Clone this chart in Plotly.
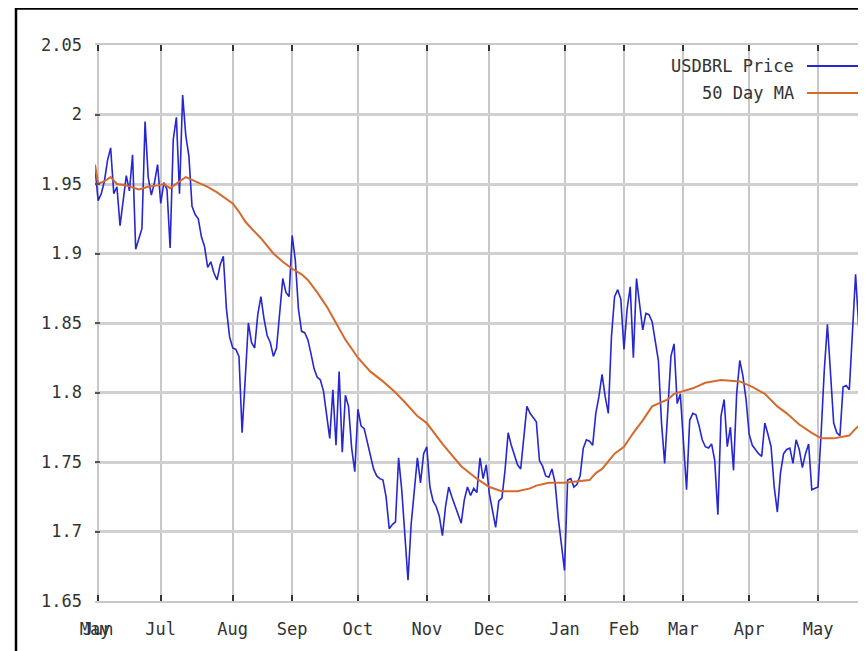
import plotly.graph_objects as go

# ---- data (trading-day index) ----
price = [
    1.962, 1.938, 1.943, 1.952, 1.967, 1.976, 1.943, 1.948, 1.920, 1.938,
    1.956, 1.945, 1.971, 1.903, 1.910, 1.918, 1.995, 1.955, 1.942, 1.951,
    1.964, 1.936, 1.951, 1.946, 1.904, 1.982, 1.998, 1.943, 2.014, 1.985,
    1.970, 1.934, 1.928, 1.925, 1.912, 1.905, 1.890, 1.894, 1.886, 1.881,
    1.892, 1.898, 1.860, 1.840, 1.832, 1.831, 1.826, 1.771, 1.810, 1.850,
    1.836, 1.832, 1.856, 1.869, 1.853, 1.841, 1.836, 1.826, 1.832, 1.860,
    1.882, 1.872, 1.869, 1.913, 1.895, 1.860, 1.844, 1.843, 1.838, 1.828,
    1.817, 1.811, 1.809, 1.801, 1.783, 1.767, 1.802, 1.762, 1.815, 1.757,
    1.798, 1.790, 1.760, 1.743, 1.788, 1.776, 1.774, 1.765, 1.756, 1.745,
    1.740, 1.738, 1.737, 1.725, 1.702, 1.705, 1.707, 1.753, 1.730, 1.696,
    1.665, 1.705, 1.731, 1.753, 1.735, 1.756, 1.761, 1.732, 1.722, 1.718,
    1.711, 1.697, 1.718, 1.732, 1.725, 1.719, 1.712, 1.706, 1.723, 1.732,
    1.726, 1.731, 1.728, 1.753, 1.738, 1.748, 1.727, 1.715, 1.703, 1.722,
    1.724, 1.744, 1.771, 1.762, 1.755, 1.748, 1.745, 1.768, 1.790, 1.785,
    1.782, 1.779, 1.751, 1.747, 1.740, 1.739, 1.745, 1.735, 1.710, 1.692,
    1.672, 1.737, 1.738, 1.732, 1.734, 1.740, 1.760, 1.766, 1.765, 1.762,
    1.785, 1.797, 1.813, 1.797, 1.785, 1.840, 1.869, 1.874, 1.867, 1.831,
    1.860, 1.876, 1.825, 1.882, 1.862, 1.845, 1.857, 1.856, 1.851, 1.836,
    1.823, 1.778, 1.749, 1.787, 1.826, 1.835, 1.792, 1.799, 1.766, 1.730,
    1.780, 1.785, 1.784, 1.776, 1.766, 1.761, 1.760, 1.763, 1.751, 1.712,
    1.783, 1.795, 1.761, 1.775, 1.744, 1.799, 1.823, 1.812, 1.795, 1.770,
    1.762, 1.759, 1.756, 1.754, 1.778, 1.770, 1.761, 1.732, 1.714, 1.742,
    1.756, 1.759, 1.760, 1.749, 1.766, 1.759, 1.746, 1.756, 1.763, 1.730,
    1.731, 1.732, 1.771, 1.816, 1.849, 1.814, 1.778, 1.771, 1.769, 1.804,
    1.805, 1.802, 1.847, 1.885, 1.847, 1.862, 1.869,
]
price_idx = list(range(len(price)))

ma_idx = [0, 1, 3, 5, 7, 10, 14, 17, 20, 22, 24, 26, 29, 31, 33, 36, 39, 41,
          44, 46, 48, 50, 53, 57, 60, 63, 66, 68, 71, 74, 77, 80, 84, 88, 92,
          96, 99, 103, 106, 111, 117, 122, 126, 130, 135, 139, 141, 145, 150,
          154, 158, 160, 162, 166, 169, 172, 175, 178, 181, 183, 185, 188, 191,
          195, 200, 206, 210, 214, 218, 221, 225, 229, 232, 236, 241, 243, 246]
ma_val = [1.964, 1.950, 1.952, 1.955, 1.950, 1.949, 1.946, 1.948, 1.949, 1.950,
          1.947, 1.950, 1.955, 1.953, 1.951, 1.948, 1.944, 1.941, 1.936, 1.930,
          1.923, 1.918, 1.911, 1.900, 1.894, 1.889, 1.885, 1.881, 1.872, 1.862,
          1.850, 1.838, 1.825, 1.815, 1.808, 1.800, 1.793, 1.783, 1.778, 1.763,
          1.747, 1.738, 1.732, 1.729, 1.729, 1.731, 1.733, 1.735, 1.735, 1.736,
          1.737, 1.742, 1.745, 1.756, 1.761, 1.771, 1.780, 1.790, 1.793, 1.795,
          1.799, 1.801, 1.803, 1.807, 1.809, 1.808, 1.804, 1.799, 1.790, 1.785,
          1.777, 1.771, 1.767, 1.767, 1.769, 1.774, 1.780]

month_idx = [0, 1, 21, 44, 63, 84, 106, 126, 150, 169, 188, 209, 231]
month_lbl = ["May", "Jun", "Jul", "Aug", "Sep", "Oct", "Nov", "Dec", "Jan",
             "Feb", "Mar", "Apr", "May"]
y_ticks = [1.65, 1.7, 1.75, 1.8, 1.85, 1.9, 1.95, 2.0, 2.05]
y_lbl = ["1.65", "1.7", "1.75", "1.8", "1.85", "1.9", "1.95", "2", "2.05"]
series_names = ["USDBRL Price", "50 Day MA"]
series_colors = ["#2626d2", "#d46a2c"]

FONT = "DejaVu Sans Mono"

fig = go.Figure()
fig.add_trace(go.Scatter(x=price_idx, y=price, mode="lines",
                         line=dict(color=series_colors[0], width=1.6),
                         name=series_names[0]))
fig.add_trace(go.Scatter(x=ma_idx, y=ma_val, mode="lines",
                         line=dict(color=series_colors[1], width=2),
                         name=series_names[1]))

# the page places the figure 8px in from the window edge
OFF = 8
W, H = 866 - OFF, 651 - OFF
L, R, T = 95 - OFF, 0, 45 - OFF
B = H - (601 - OFF)
pw, ph = W - L - R, H - T - B

def px_x(p):   # window pixel -> paper x
    return (p - OFF - L) / pw

def px_y(p):   # window pixel -> paper y
    return (H - B - (p - OFF)) / ph

shapes = [
    # outer black frame (top and left edges visible)
    dict(type="line", xref="paper", yref="paper", x0=px_x(16), x1=px_x(880),
         y0=px_y(8.6), y1=px_y(8.6), line=dict(color="black", width=2.5)),
    dict(type="line", xref="paper", yref="paper", x0=px_x(16), x1=px_x(16),
         y0=px_y(7.5), y1=px_y(660), line=dict(color="black", width=2.5)),
]
annotations = []
legend_rows = [66, 93]
for name, col, ry in zip(series_names, series_colors, legend_rows):
    annotations.append(dict(xref="paper", yref="paper", x=px_x(796), y=px_y(ry),
                            text=name, showarrow=False, xanchor="right",
                            yanchor="middle",
                            font=dict(family=FONT, size=17, color="#333333")))
    shapes.append(dict(type="line", xref="paper", yref="paper",
                       x0=px_x(807), x1=px_x(858), y0=px_y(ry), y1=px_y(ry),
                       line=dict(color=col, width=2)))

fig.update_layout(
    width=W, height=H,
    margin=dict(l=L, r=R, t=T, b=B, pad=0, autoexpand=False),
    paper_bgcolor="white", plot_bgcolor="white",
    showlegend=False,
    shapes=shapes, annotations=annotations,
    font=dict(family=FONT, size=17, color="#333333"),
)
fig.update_xaxes(
    range=[0, pw / 3.13], tickmode="array", tickvals=month_idx, ticktext=month_lbl,
    tickangle=0, automargin=False,
    showgrid=True, gridcolor="#c8c8c8", gridwidth=2,
    showline=True, linecolor="#c8c8c8", linewidth=2, mirror="ticks",
    ticks="inside", ticklen=6, tickwidth=1.5, tickcolor="#333333",
    ticklabelstandoff=12, zeroline=False,
)
fig.update_yaxes(
    range=[1.65, 2.05], tickmode="array", tickvals=y_ticks, ticktext=y_lbl,
    automargin=False,
    showgrid=True, gridcolor="#d0d0d0", gridwidth=2.5,
    showline=False, ticks="inside", ticklen=5, tickwidth=1.5,
    tickcolor="#555555", ticklabelstandoff=12, zeroline=False,
)

fig.write_html("out.html")
